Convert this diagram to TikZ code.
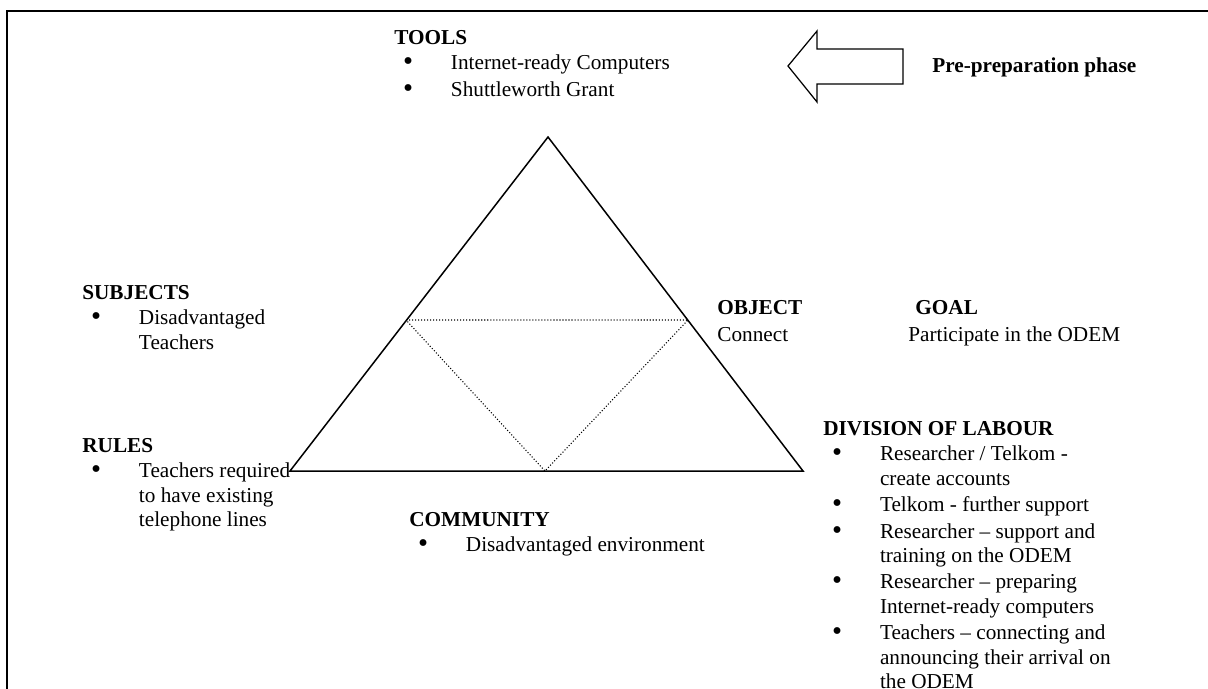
\documentclass[tikz,border=0pt]{standalone}
\usepackage{fontspec}
\setmainfont{Liberation Serif}
\usetikzlibrary{positioning}
\newcommand{\bl}{\hspace*{5pt}\raisebox{-0.6pt}{\scalebox{1.35}{\textbullet}}}

\begin{document}
\begin{tikzpicture}[x=0.565pt,y=-0.565pt,
   block/.style={inner sep=0pt,anchor=base west,font=\fontsize{12}{13.8}\selectfont},
   frame/.style={line width=1.1pt},
   side/.style={line width=0.85pt,line join=miter},
   inner/.style={line width=0.6pt,dash pattern=on 0.6pt off 1.1pt},
   bigarrow/.style={line width=0.7pt,line join=miter}]
   \clip (0,0) rectangle (1208,688);
   \draw[frame] (7,11) rectangle (1240,720);
   % activity triangle
   \coordinate (top) at (548,137);
   \coordinate (left) at (290,471);
   \coordinate (right) at (803,471);
   \coordinate (midl) at (406,320);
   \coordinate (midr) at (688,320);
   \coordinate (midb) at (545,471);
   \draw[side] (top) -- (left) -- (right) -- cycle;
   \draw[inner] (midl) -- (midr) -- (midb) -- cycle;
   % phase arrow
   \draw[bigarrow] (788,66) -- (817,31) -- (817,49) -- (903,49) -- (903,84)
      -- (817,84) -- (817,102) -- cycle;
   \node[block,font=\fontsize{12}{13.8}\selectfont\bfseries] (phase) at (932,72) {Pre-preparation phase};
   % labels
   \node[block] (tools) at (394,44) {\begin{tabular}[t]{@{}p{32pt}@{}l@{}}
      \multicolumn{2}{@{}l@{}}{\bfseries TOOLS}\\[0.8pt]
      \bl & Internet-ready Computers\\[1.1pt]
      \bl & Shuttleworth Grant
   \end{tabular}};
   \node[block] (subjects) at (82,299) {\begin{tabular}[t]{@{}p{32pt}@{}l@{}}
      \multicolumn{2}{@{}l@{}}{\bfseries SUBJECTS}\\[0.8pt]
      \bl & Disadvantaged\\
          & Teachers
   \end{tabular}};
   \node[block] (rules) at (82,452) {\begin{tabular}[t]{@{}p{32pt}@{}l@{}}
      \multicolumn{2}{@{}l@{}}{\bfseries RULES}\\[0.8pt]
      \bl & Teachers required\\
          & to have existing\\
          & telephone lines
   \end{tabular}};
   \node[block] (object) at (717,314) {\begin{tabular}[t]{@{}l@{}}
      \bfseries OBJECT\\[2pt]
      Connect
   \end{tabular}};
   \node[block] (goal) at (908,314) {\begin{tabular}[t]{@{}l@{}}
      \hspace*{4pt}\bfseries GOAL\\[2pt]
      Participate in the ODEM
   \end{tabular}};
   \node[block] (community) at (409,526) {\begin{tabular}[t]{@{}p{32pt}@{}l@{}}
      \multicolumn{2}{@{}l@{}}{\bfseries COMMUNITY}\\[0.8pt]
      \bl & Disadvantaged environment
   \end{tabular}};
   \node[block] (labour) at (823,435) {\begin{tabular}[t]{@{}p{32pt}@{}l@{}}
      \multicolumn{2}{@{}l@{}}{\bfseries DIVISION OF LABOUR}\\[0.8pt]
      \bl & Researcher / Telkom -\\
          & create accounts\\[1.1pt]
      \bl & Telkom - further support\\[1.1pt]
      \bl & Researcher – support and\\
          & training on the ODEM\\[1.1pt]
      \bl & Researcher – preparing\\
          & Internet-ready computers\\[1.1pt]
      \bl & Teachers – connecting and\\
          & announcing their arrival on\\
          & the ODEM
   \end{tabular}};
\end{tikzpicture}
\end{document}
